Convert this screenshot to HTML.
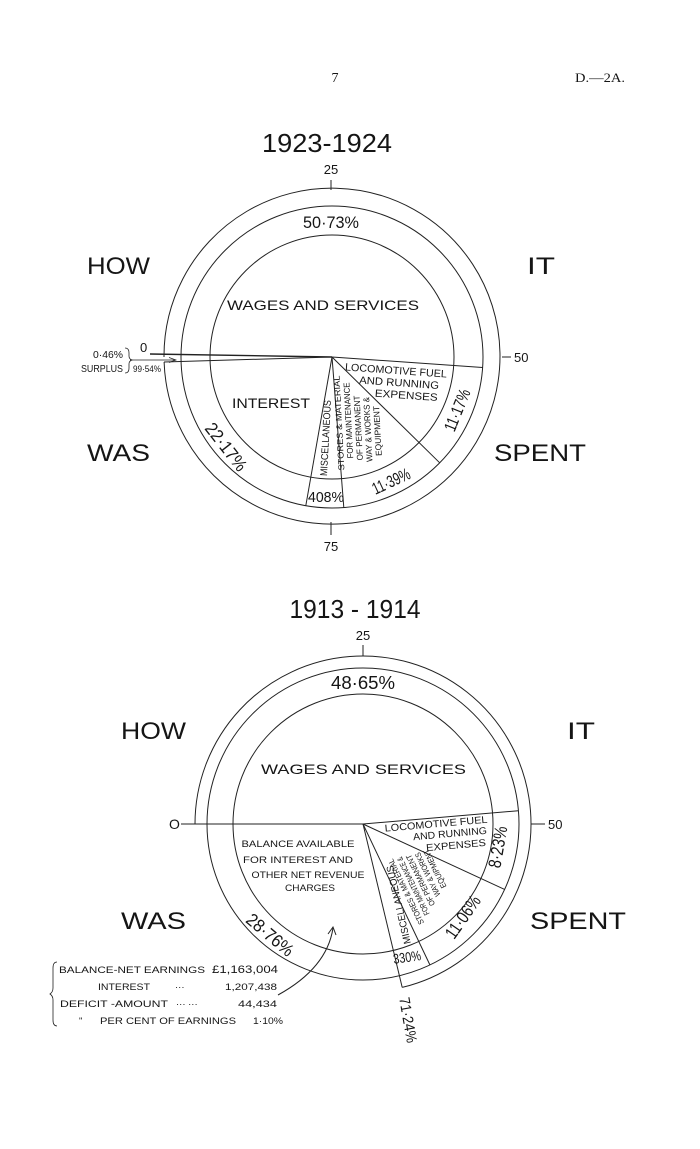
<!DOCTYPE html>
<html><head><meta charset="utf-8"><style>
html,body{margin:0;padding:0;background:#fff;}
svg{display:block;}
text{font-family:"Liberation Sans",sans-serif;fill:#151515;}
.s{font-family:"Liberation Serif",serif;}
</style></head><body>
<svg width="700" height="1149" viewBox="0 0 700 1149" xmlns="http://www.w3.org/2000/svg">
<rect width="700" height="1149" fill="#fff"/>
<g stroke="#222" stroke-width="1" fill="none">
<circle cx="332" cy="357" r="122"/>
<circle cx="332" cy="357" r="151"/>
<path d="M164,357 A168,168 0 1 1 164.1,362"/>
<line x1="332" y1="357" x2="150" y2="354" stroke-width="1.4"/>
<line x1="332" y1="357" x2="164" y2="362"/>
<line x1="332" y1="357" x2="482.6" y2="367.5"/>
<line x1="332" y1="357" x2="439.7" y2="462.8"/>
<line x1="332" y1="357" x2="343.8" y2="507.5"/>
<line x1="332" y1="357" x2="305.8" y2="505.7"/>
<line x1="331" y1="180" x2="331" y2="190"/>
<line x1="331" y1="522" x2="331" y2="535"/>
<line x1="502" y1="357" x2="511" y2="357"/>
<line x1="130" y1="360" x2="175" y2="360" stroke-width="0.7"/>
<path d="M169,357.5 L176,360 L169,362.5" stroke-width="0.7"/>
<path d="M125,348 q4,0 4,5 v3 q0,3 3,4 q-3,1 -3,4 v4 q0,5 -4,5" stroke-width="0.8"/>
<circle cx="363" cy="824" r="130"/>
<circle cx="363" cy="824" r="156"/>
<path d="M195,824 A168,168 0 1 1 402.2,987.4"/>
<line x1="181" y1="824" x2="363" y2="824"/>
<line x1="363" y1="824" x2="518.4" y2="810.7"/>
<line x1="363" y1="824" x2="504.6" y2="889.4"/>
<line x1="363" y1="824" x2="429.9" y2="964.9"/>
<line x1="363" y1="824" x2="402.2" y2="987.4"/>
<line x1="363" y1="645" x2="363" y2="656"/>
<line x1="531" y1="824" x2="545" y2="824"/>
<path d="M278,995 Q327,968 333,928"/>
<path d="M328,934 L333,927 L336,935"/>
<path d="M57,962 q-4,0 -4,6 v20 q0,4 -3,6 q3,2 3,6 v20 q0,6 4,6" stroke-width="0.8"/>
</g>

<text class="s" x="335" y="82" font-size="14" text-anchor="middle">7</text>
<text class="s" x="575" y="82" font-size="13" textLength="50" lengthAdjust="spacingAndGlyphs">D.—2A.</text>

<text x="327" y="152" font-size="26" text-anchor="middle" textLength="130" lengthAdjust="spacingAndGlyphs">1923-1924</text>
<text x="331" y="174" font-size="13" text-anchor="middle">25</text>
<text x="331" y="551" font-size="13" text-anchor="middle">75</text>
<text x="514" y="362" font-size="13">50</text>
<text x="140" y="352" font-size="13">0</text>
<text x="93" y="358" font-size="10" textLength="30" lengthAdjust="spacingAndGlyphs">0·46%</text>
<text x="81" y="372" font-size="10" textLength="42" lengthAdjust="spacingAndGlyphs">SURPLUS</text>
<text x="133" y="372" font-size="9" textLength="28" lengthAdjust="spacingAndGlyphs">99·54%</text>

<text x="87" y="274" font-size="24" textLength="63" lengthAdjust="spacingAndGlyphs">HOW</text>
<text x="527" y="274" font-size="24" textLength="28" lengthAdjust="spacingAndGlyphs">IT</text>
<text x="87" y="461" font-size="24" textLength="63" lengthAdjust="spacingAndGlyphs">WAS</text>
<text x="494" y="461" font-size="24" textLength="92" lengthAdjust="spacingAndGlyphs">SPENT</text>

<text x="331" y="228" font-size="17" text-anchor="middle" textLength="56" lengthAdjust="spacingAndGlyphs">50·73%</text>
<text x="227" y="310" font-size="14" textLength="192" lengthAdjust="spacingAndGlyphs">WAGES AND SERVICES</text>
<text x="232" y="408" font-size="14" textLength="78" lengthAdjust="spacingAndGlyphs">INTEREST</text>
<g transform="rotate(4 396 370)">
<text x="396" y="374" font-size="10.5" text-anchor="middle" textLength="102" lengthAdjust="spacingAndGlyphs">LOCOMOTIVE FUEL</text>
<text x="400" y="386" font-size="10.5" text-anchor="middle" textLength="80" lengthAdjust="spacingAndGlyphs">AND RUNNING</text>
<text x="408" y="398" font-size="10.5" text-anchor="middle" textLength="63" lengthAdjust="spacingAndGlyphs">EXPENSES</text>
</g>
<text transform="translate(457,410) rotate(-68)" x="0" y="6" font-size="17" text-anchor="middle" textLength="44" lengthAdjust="spacingAndGlyphs">11·17%</text>
<text transform="translate(391,481) rotate(-25)" x="0" y="6" font-size="17" text-anchor="middle" textLength="40" lengthAdjust="spacingAndGlyphs">11·39%</text>
<text x="326" y="502" font-size="15" text-anchor="middle" textLength="36" lengthAdjust="spacingAndGlyphs">408%</text>
<text transform="translate(226,447) rotate(52)" x="0" y="6" font-size="18" text-anchor="middle" textLength="56" lengthAdjust="spacingAndGlyphs">22·17%</text>
<text transform="translate(325,438) rotate(-87)" x="0" y="4" font-size="10" text-anchor="middle" textLength="76" lengthAdjust="spacingAndGlyphs">MISCELLANEOUS</text>
<g transform="translate(358,424) rotate(-93)" font-size="8.5">
<text x="2" y="-16" text-anchor="middle" textLength="95" lengthAdjust="spacingAndGlyphs">STORES &amp; MATERIAL</text>
<text x="4" y="-6.5" text-anchor="middle" textLength="76" lengthAdjust="spacingAndGlyphs">FOR MAINTENANCE</text>
<text x="-4" y="3" text-anchor="middle" textLength="65" lengthAdjust="spacingAndGlyphs">OF PERMANENT</text>
<text x="-6" y="12.5" text-anchor="middle" textLength="65" lengthAdjust="spacingAndGlyphs">WAY &amp; WORKS &amp;</text>
<text x="-8" y="22" text-anchor="middle" textLength="50" lengthAdjust="spacingAndGlyphs">EQUIPMENT</text>
</g>

<text x="355" y="618" font-size="26" text-anchor="middle" textLength="131" lengthAdjust="spacingAndGlyphs">1913 - 1914</text>
<text x="363" y="640" font-size="13" text-anchor="middle">25</text>
<text x="548" y="829" font-size="13">50</text>
<text x="169" y="829" font-size="14">O</text>

<text x="121" y="739" font-size="24" textLength="65" lengthAdjust="spacingAndGlyphs">HOW</text>
<text x="567" y="739" font-size="24" textLength="28" lengthAdjust="spacingAndGlyphs">IT</text>
<text x="121" y="929" font-size="24" textLength="65" lengthAdjust="spacingAndGlyphs">WAS</text>
<text x="530" y="929" font-size="24" textLength="96" lengthAdjust="spacingAndGlyphs">SPENT</text>

<text x="363" y="689" font-size="18" text-anchor="middle" textLength="64" lengthAdjust="spacingAndGlyphs">48·65%</text>
<text x="261" y="774" font-size="14" textLength="205" lengthAdjust="spacingAndGlyphs">WAGES AND SERVICES</text>
<g font-size="9.5" text-anchor="middle">
<text x="298" y="847" textLength="113" lengthAdjust="spacingAndGlyphs">BALANCE AVAILABLE</text>
<text x="298" y="863" textLength="110" lengthAdjust="spacingAndGlyphs">FOR INTEREST AND</text>
<text x="308" y="878" textLength="113" lengthAdjust="spacingAndGlyphs">OTHER NET REVENUE</text>
<text x="310" y="891" textLength="50" lengthAdjust="spacingAndGlyphs">CHARGES</text>
</g>
<g transform="rotate(-5 450 834)" font-size="10" text-anchor="middle">
<text x="437" y="826" textLength="103" lengthAdjust="spacingAndGlyphs">LOCOMOTIVE FUEL</text>
<text x="450" y="837" textLength="74" lengthAdjust="spacingAndGlyphs">AND RUNNING</text>
<text x="455" y="849" textLength="60" lengthAdjust="spacingAndGlyphs">EXPENSES</text>
</g>
<text transform="translate(498,847) rotate(-80)" x="0" y="6" font-size="18" text-anchor="middle" textLength="42" lengthAdjust="spacingAndGlyphs">8·23%</text>
<text transform="translate(463,917) rotate(-55)" x="0" y="6" font-size="18" text-anchor="middle" textLength="48" lengthAdjust="spacingAndGlyphs">11·06%</text>
<text transform="translate(407,957) rotate(-8)" x="0" y="5" font-size="14" text-anchor="middle" textLength="28" lengthAdjust="spacingAndGlyphs">330%</text>
<text transform="translate(270,935) rotate(40)" x="0" y="6" font-size="18" text-anchor="middle" textLength="56" lengthAdjust="spacingAndGlyphs">28·76%</text>
<text transform="translate(408,1020) rotate(80)" x="0" y="5" font-size="15" text-anchor="middle" textLength="46" lengthAdjust="spacingAndGlyphs">71·24%</text>
<text transform="translate(398,905) rotate(-103)" x="0" y="4" font-size="10" text-anchor="middle" textLength="80" lengthAdjust="spacingAndGlyphs">MISCELLANEOUS</text>
<g transform="translate(422,884) rotate(-116)" font-size="8" text-anchor="middle">
<text x="0" y="-15" textLength="72" lengthAdjust="spacingAndGlyphs">STORES &amp; MATERIAL</text>
<text x="2" y="-6" textLength="64" lengthAdjust="spacingAndGlyphs">FOR MAINTENANCE &amp;</text>
<text x="4" y="3" textLength="56" lengthAdjust="spacingAndGlyphs">OF PERMANENT</text>
<text x="6" y="12" textLength="48" lengthAdjust="spacingAndGlyphs">WAY &amp; WORKS</text>
<text x="8" y="21" textLength="42" lengthAdjust="spacingAndGlyphs">EQUIPMENT</text>
</g>

<g font-size="9.5">
<text x="59" y="973" textLength="146" lengthAdjust="spacingAndGlyphs">BALANCE-NET EARNINGS</text>
<text x="212" y="973" font-size="11" textLength="66" lengthAdjust="spacingAndGlyphs">£1,163,004</text>
<text x="98" y="990" textLength="52" lengthAdjust="spacingAndGlyphs">INTEREST</text>
<text x="175" y="990">···</text>
<text x="225" y="990" textLength="52" lengthAdjust="spacingAndGlyphs">1,207,438</text>
<text x="60" y="1007" textLength="108" lengthAdjust="spacingAndGlyphs">DEFICIT -AMOUNT</text>
<text x="176" y="1007">···  ···</text>
<text x="238" y="1007" textLength="39" lengthAdjust="spacingAndGlyphs">44,434</text>
<text x="79" y="1024">"</text>
<text x="100" y="1024" textLength="136" lengthAdjust="spacingAndGlyphs">PER CENT OF EARNINGS</text>
<text x="253" y="1024" textLength="30" lengthAdjust="spacingAndGlyphs">1·10%</text>
</g>
</svg>
</body></html>
